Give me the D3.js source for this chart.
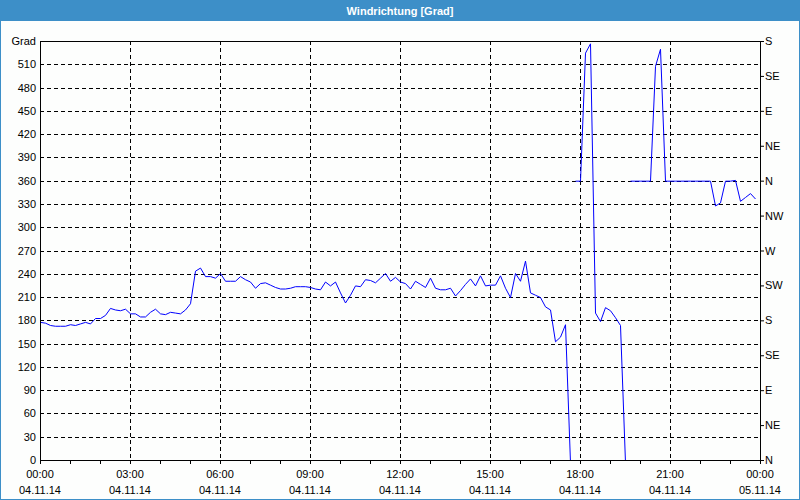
<!DOCTYPE html>
<html><head><meta charset="utf-8">
<script src="https://cdnjs.cloudflare.com/ajax/libs/d3/7.8.5/d3.min.js"></script>
<style>
html,body{margin:0;padding:0;background:#fdfefd;}
svg{display:block;}
text{font-family:"Liberation Sans",Arial,sans-serif;}
</style></head>
<body><svg id="c" width="800" height="500"></svg>
<script>
const title = "Windrichtung [Grad]";
const unitLabel = "Grad";
const startTime = "2014-11-04T00:00:00";
const endTime = "2014-11-05T00:00:00";
const stepMinutes = 10;
// wind direction (degrees as plotted, 10-minute samples from 00:00)
const direction = [
 178,177,174,173,173,173,175,174,176,178,176,183,183,187,196,194,193,195,189,189,
 185,185,191,195,189,188,191,190,189,194,202,244,248,237,237,235,241,231,231,231,
 237,233,230,222,228,229,226,223,221,221,222,224,224,224,223,221,220,230,225,230,
 216,203,213,225,224,233,232,229,235,241,231,236,230,228,221,231,227,223,235,222,
 220,220,222,212,219,227,234,225,238,225,226,226,238,222,210,241,231,257,216,213,
 210,198,194,153,159,175,-3,360,360,525,537,190,179,197,193,184,174,-3,360,360,
 360,360,360,508,530,360,360,360,360,360,360,360,360,360,360,328,332,360,360,361,
 334,339,344,337
];
const leftTicks = d3.range(0, 511, 30);
const rightTickValues = d3.range(0, 541, 45);
const rightTickLabels = ["N","NE","E","SE","S","SW","W","NW","N","NE","E","SE","S"];
const timeTicksHours = [0,3,6,9,12,15,18,21,24];

const W = 800, H = 500;
const m = {l:40, r:760, t:41, b:460};
const svg = d3.select("#c");

// window chrome
svg.append("rect").attr("x",0).attr("y",0).attr("width",W).attr("height",H).attr("fill","#fdfefd");
svg.append("rect").attr("x",0).attr("y",0).attr("width",W).attr("height",21).attr("fill","#3d8fc8");
svg.append("rect").attr("x",0.5).attr("y",0.5).attr("width",W-1).attr("height",H-1)
  .attr("fill","none").attr("stroke","#3d8fc8");
svg.append("text").attr("x",W/2).attr("y",14.5).attr("text-anchor","middle")
  .attr("fill","#fff").attr("font-weight","bold").attr("font-size","11px").text(title);

const t0 = new Date(startTime), t1 = new Date(endTime);
const x = d3.scaleTime().domain([t0,t1]).range([m.l, m.r]);
const y = d3.scaleLinear().domain([0,540]).range([m.b, m.t]);

const data = direction.map((v,i)=>({t:new Date(t0.getTime()+i*stepMinutes*60000), v}));

// grid
const g = svg.append("g");
const hourTicks = timeTicksHours.map(h=>new Date(t0.getTime()+h*3600000));
g.selectAll(".vg").data(hourTicks.slice(1,-1)).enter().append("line")
  .attr("x1",d=>Math.round(x(d))+0.5).attr("x2",d=>Math.round(x(d))+0.5)
  .attr("y1",m.t).attr("y2",m.b).attr("stroke","#000").attr("stroke-dasharray","4,3");
g.selectAll(".hg").data(leftTicks.filter(v=>v>0)).enter().append("line")
  .attr("x1",m.l).attr("x2",m.r)
  .attr("y1",d=>Math.round(y(d))+0.5).attr("y2",d=>Math.round(y(d))+0.5)
  .attr("stroke","#000").attr("stroke-dasharray","4,3");

// data line, split where the trace re-enters from outside the range
const segs = [];
let cur = [];
data.forEach((d,i)=>{
  const prev = i>0 ? data[i-1].v : null;
  if (prev!==null && (prev<0 || prev>540) && d.v>=0 && d.v<=540) { segs.push(cur); cur = []; }
  cur.push(d);
});
segs.push(cur);
svg.append("clipPath").attr("id","pc").append("rect")
  .attr("x",m.l).attr("y",m.t).attr("width",m.r-m.l).attr("height",m.b-m.t);
const line = d3.line().x(d=>x(d.t)+0.5).y(d=>y(d.v)+0.5);
svg.append("g").attr("clip-path","url(#pc)").selectAll("path").data(segs).enter().append("path")
  .attr("d",line).attr("fill","none").attr("stroke","#0000ff").attr("stroke-width",1);

// frame
svg.append("rect").attr("x",m.l+0.5).attr("y",m.t+0.5).attr("width",m.r-m.l).attr("height",m.b-m.t)
  .attr("fill","none").attr("stroke","#000");

// left axis
const leftAxis = d3.axisLeft(y).tickValues(leftTicks).tickSize(0).tickPadding(4);
const la = svg.append("g").attr("transform",`translate(${m.l},0)`).call(leftAxis);
la.select(".domain").remove();
la.selectAll("text").attr("font-size","11px").attr("fill","#000").attr("font-family","Liberation Sans, Arial, sans-serif");
svg.append("text").attr("x",m.l-4).attr("y",y(540)+4).attr("text-anchor","end")
  .attr("font-size","11px").attr("fill","#000").text(unitLabel);

// right axis
const ra = svg.append("g").attr("transform",`translate(${m.r},0)`)
  .call(d3.axisRight(y).tickValues(rightTickValues).tickSize(4).tickPadding(1)
    .tickFormat((d,i)=>rightTickLabels[i]));
ra.select(".domain").remove();
ra.selectAll("line").attr("stroke","#000");
ra.selectAll("text").attr("font-size","11px").attr("fill","#000").attr("font-family","Liberation Sans, Arial, sans-serif");

// bottom axis: minor ticks every hour
const minor = d3.range(0,25).map(h=>new Date(t0.getTime()+h*3600000));
svg.append("g").selectAll("line").data(minor).enter().append("line")
  .attr("x1",d=>Math.round(x(d))+0.5).attr("x2",d=>Math.round(x(d))+0.5)
  .attr("y1",m.b).attr("y2",m.b+4).attr("stroke","#000");
const fmtT = d3.timeFormat("%H:%M"), fmtD = d3.timeFormat("%d.%m.%y");
const ba = svg.append("g");
ba.selectAll(".tl").data(hourTicks).enter().append("text")
  .attr("x",d=>x(d)).attr("y",478).attr("text-anchor","middle").attr("font-size","11px").text(d=>fmtT(d));
ba.selectAll(".dl").data(hourTicks).enter().append("text")
  .attr("x",d=>x(d)).attr("y",494).attr("text-anchor","middle").attr("font-size","11px").text(d=>fmtD(d));
</script></body></html>
